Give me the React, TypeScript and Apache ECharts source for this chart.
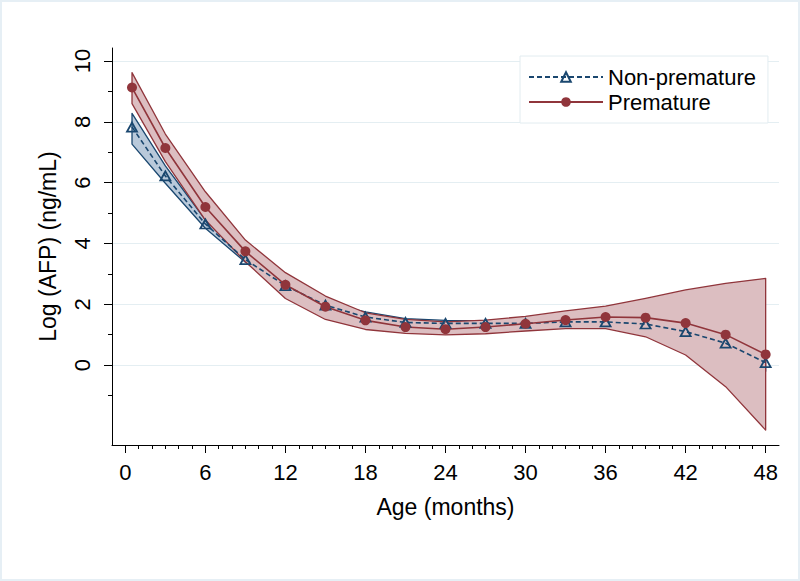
import React, { useEffect, useRef } from "react";
import * as echarts from "echarts";

// Age in months at which the estimates are evaluated
const ages = [0.5, 3, 6, 9, 12, 15, 18, 21, 24, 27, 30, 33, 36, 39, 42, 45, 48];

// Non-premature: mean and confidence band
const nonPremMean = [7.83, 6.22, 4.64, 3.47, 2.61, 1.97, 1.58, 1.4, 1.37, 1.37, 1.37, 1.42, 1.42, 1.35, 1.1, 0.72, 0.08];
const nonPremUpper = [8.28, 6.55, 4.78, 3.58, 2.72, 2.06, 1.75, 1.53, 1.47, 1.46, 1.46, 1.52, 1.55, 1.5, 1.25, 0.95, 0.35];
const nonPremLower = [7.27, 5.98, 4.5, 3.38, 2.5, 1.88, 1.45, 1.25, 1.2, 1.2, 1.25, 1.3, 1.3, 1.2, 0.95, 0.5, -0.2];

// Premature: mean and confidence band
const premMean = [9.13, 7.14, 5.2, 3.74, 2.64, 1.92, 1.47, 1.25, 1.18, 1.25, 1.36, 1.48, 1.58, 1.56, 1.38, 1.0, 0.35];
const premUpper = [9.62, 7.6, 5.7, 4.11, 3.04, 2.27, 1.72, 1.5, 1.42, 1.48, 1.6, 1.78, 1.94, 2.19, 2.47, 2.69, 2.85];
const premLower = [8.6, 6.69, 4.77, 3.4, 2.19, 1.5, 1.17, 1.04, 0.99, 1.03, 1.12, 1.2, 1.2, 0.93, 0.33, -0.71, -2.14];

// Axis ticks
const xMajorTicks = [0, 6, 12, 18, 24, 30, 36, 42, 48];
const xMinorTicks = [1, 2, 3, 4, 5, 7, 8, 9, 10, 11, 13, 14, 15, 16, 17, 19, 20, 21, 22, 23, 25, 26, 27, 28, 29, 31, 32, 33, 34, 35, 37, 38, 39, 40, 41, 43, 44, 45, 46, 47];
const yMajorTicks = [0, 2, 4, 6, 8, 10];
const yMinorTicks = [-1, 1, 3, 5, 7, 9];

const NAVY = "#1a476f";
const MAROON = "#90353b";
const FONT = "'Liberation Sans', Arial, Helvetica, sans-serif";

function bandRenderer(lo: number[], hi: number[], fill: string, stroke: string) {
  return (params: any, api: any) => {
    if (params.dataIndex !== 0) return null;
    const pts: number[][] = [];
    for (let i = 0; i < ages.length; i++) pts.push(api.coord([ages[i], hi[i]]));
    for (let i = ages.length - 1; i >= 0; i--) pts.push(api.coord([ages[i], lo[i]]));
    return {
      type: "polygon",
      shape: { points: pts },
      style: { fill, stroke, lineWidth: 1.3, lineJoin: "round" },
    };
  };
}

export default function App() {
  const ref = useRef<HTMLDivElement>(null);
  useEffect(() => {
    if (!ref.current) return;
    const chart = echarts.init(ref.current, undefined, { renderer: "svg" });
    const axisLineStyle = { color: "#000", width: 1 };
    chart.setOption({
      animation: false,
      backgroundColor: "#ffffff",
      textStyle: { fontFamily: FONT },
      grid: { left: 112, right: 21, top: 48, bottom: 136, containLabel: false },
      graphic: [
        {
          type: "rect",
          shape: { x: 1, y: 1, width: 798, height: 579 },
          style: { fill: "none", stroke: "#e6eff5", lineWidth: 2 },
          silent: true,
        },
      ],
      legend: {
        data: ["Non-premature", "Premature"],
        orient: "vertical",
        left: 520,
        top: 56,
        padding: [10, 12, 10, 8],
        itemWidth: 74,
        itemHeight: 12,
        itemGap: 3,
        backgroundColor: "#ffffff",
        borderColor: "#e2ecf0",
        borderWidth: 1,
        borderRadius: 0,
        textStyle: { fontSize: 22, color: "#000", fontFamily: FONT, lineHeight: 22, padding: [0, 0, 0, 0] },
      },
      xAxis: [
        {
          type: "value",
          min: -1,
          max: 49,
          position: "bottom",
          name: "Age (months)",
          nameLocation: "middle",
          nameGap: 50,
          nameTextStyle: { fontSize: 23, color: "#000", fontFamily: FONT },
          axisLine: { show: true, onZero: false, lineStyle: axisLineStyle },
          axisTick: { show: true, length: 8, customValues: xMajorTicks, lineStyle: axisLineStyle },
          axisLabel: { customValues: xMajorTicks, fontSize: 22, color: "#000", margin: 16, fontFamily: FONT },
          splitLine: { show: false },
        },
        {
          type: "value",
          min: -1,
          max: 49,
          position: "bottom",
          axisLine: { show: false, onZero: false },
          axisTick: { show: true, length: 4, customValues: xMinorTicks, lineStyle: axisLineStyle },
          axisLabel: { show: false },
          splitLine: { show: false },
        },
      ],
      yAxis: [
        {
          type: "value",
          min: -2.63,
          max: 10.43,
          position: "left",
          name: "Log (AFP) (ng/mL)",
          nameLocation: "middle",
          nameGap: 53,
          nameTextStyle: { fontSize: 23, color: "#000", fontFamily: FONT },
          axisLine: { show: true, onZero: false, lineStyle: axisLineStyle },
          axisTick: { show: true, length: 8, customValues: yMajorTicks, lineStyle: axisLineStyle },
          axisLabel: { customValues: yMajorTicks, rotate: 90, fontSize: 22, color: "#000", margin: 19, fontFamily: FONT },
          splitLine: { show: true, lineStyle: { color: "#e4eef2", width: 1.2 } },
        },
        {
          type: "value",
          min: -2.63,
          max: 10.43,
          position: "left",
          axisLine: { show: false, onZero: false },
          axisTick: { show: true, length: 4, customValues: yMinorTicks, lineStyle: axisLineStyle },
          axisLabel: { show: false },
          splitLine: { show: false },
        },
      ],
      series: [
        {
          name: "Non-premature band",
          type: "custom",
          xAxisIndex: 0,
          yAxisIndex: 0,
          renderItem: bandRenderer(nonPremLower, nonPremUpper, "#b9c9da", NAVY),
          data: ages.map((t, i) => [t, nonPremLower[i], nonPremUpper[i]]),
          encode: { x: 0, y: [1, 2] },
          silent: true,
        },
        {
          name: "Premature band",
          type: "custom",
          xAxisIndex: 0,
          yAxisIndex: 0,
          renderItem: bandRenderer(premLower, premUpper, "#dcbec1", MAROON),
          data: ages.map((t, i) => [t, premLower[i], premUpper[i]]),
          encode: { x: 0, y: [1, 2] },
          silent: true,
        },
        {
          name: "Non-premature",
          type: "line",
          xAxisIndex: 0,
          yAxisIndex: 0,
          data: ages.map((t, i) => [t, nonPremMean[i]]),
          symbol: "triangle",
          symbolSize: [10, 9],
          showAllSymbol: true,
          lineStyle: { color: NAVY, width: 1.6, type: [5, 3] },
          itemStyle: { color: "rgba(0,0,0,0)", borderColor: NAVY, borderWidth: 1.8 },
        },
        {
          name: "Premature",
          type: "line",
          xAxisIndex: 0,
          yAxisIndex: 0,
          data: ages.map((t, i) => [t, premMean[i]]),
          symbol: "circle",
          symbolSize: 10,
          showAllSymbol: true,
          lineStyle: { color: MAROON, width: 1.6 },
          itemStyle: { color: MAROON, borderColor: MAROON, borderWidth: 0 },
        },
      ],
    });
    return () => chart.dispose();
  }, []);
  return (
    <div
      ref={ref}
      style={{ position: "absolute", left: 0, top: 0, width: 800, height: 581 }}
    />
  );
}
